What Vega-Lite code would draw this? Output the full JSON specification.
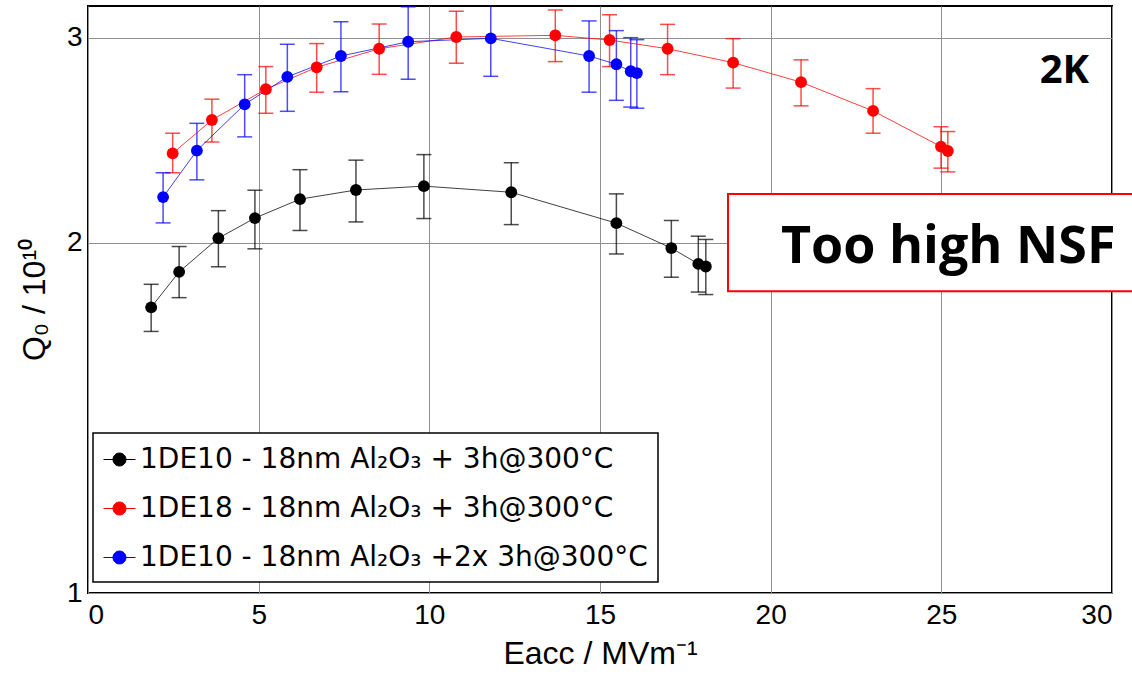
{
  "$schema": "https://vega.github.io/schema/vega-lite/v6.json",
  "width": 1024,
  "height": 587,
  "autosize": {"type": "none"},
  "padding": {"left": 88, "top": 6, "right": 20, "bottom": 91},
  "background": "white",
  "config": {
    "view": {"stroke": "black", "strokeWidth": 2},
    "axis": {
      "labelFont": "Liberation Sans",
      "labelFontSize": 28,
      "labelColor": "black",
      "titleFont": "Liberation Sans",
      "titleFontSize": 32,
      "titleFontWeight": "normal",
      "titleColor": "black",
      "gridColor": "#909090",
      "gridWidth": 1,
      "domain": false,
      "ticks": false
    },
    "legend": {
      "orient": "none",
      "legendX": 5,
      "legendY": 427,
      "padding": 10,
      "strokeColor": "black",
      "strokeWidth": 1.5,
      "fillColor": "white",
      "rowPadding": 18,
      "labelFont": "DejaVu Sans",
      "labelFontSize": 28,
      "labelColor": "black",
      "labelLimit": 0,
      "labelOffset": 4,
      "symbolSize": 1024,
      "symbolOpacity": 1,
      "symbolType": "M-1,0L1,0M0.406,0A0.406,0.406,0,1,1,-0.406,0A0.406,0.406,0,1,1,0.406,0Z",
      "symbolStrokeWidth": 1
    }
  },
  "layer": [
    {
      "data": {
        "values": [
          {"s": "1DE10 - 18nm Al₂O₃ + 3h@300°C", "x": 1.85, "q": 1.760, "lo": 1.678, "hi": 1.842},
          {"s": "1DE10 - 18nm Al₂O₃ + 3h@300°C", "x": 2.67, "q": 1.888, "lo": 1.794, "hi": 1.985},
          {"s": "1DE10 - 18nm Al₂O₃ + 3h@300°C", "x": 3.82, "q": 2.018, "lo": 1.907, "hi": 2.131},
          {"s": "1DE10 - 18nm Al₂O₃ + 3h@300°C", "x": 4.89, "q": 2.100, "lo": 1.976, "hi": 2.219},
          {"s": "1DE10 - 18nm Al₂O₃ + 3h@300°C", "x": 6.21, "q": 2.180, "lo": 2.049, "hi": 2.311},
          {"s": "1DE10 - 18nm Al₂O₃ + 3h@300°C", "x": 7.85, "q": 2.220, "lo": 2.084, "hi": 2.355},
          {"s": "1DE10 - 18nm Al₂O₃ + 3h@300°C", "x": 9.84, "q": 2.237, "lo": 2.098, "hi": 2.381},
          {"s": "1DE10 - 18nm Al₂O₃ + 3h@300°C", "x": 12.40, "q": 2.210, "lo": 2.073, "hi": 2.343},
          {"s": "1DE10 - 18nm Al₂O₃ + 3h@300°C", "x": 15.48, "q": 2.079, "lo": 1.956, "hi": 2.203},
          {"s": "1DE10 - 18nm Al₂O₃ + 3h@300°C", "x": 17.09, "q": 1.979, "lo": 1.868, "hi": 2.090},
          {"s": "1DE10 - 18nm Al₂O₃ + 3h@300°C", "x": 17.88, "q": 1.918, "lo": 1.814, "hi": 2.026},
          {"s": "1DE10 - 18nm Al₂O₃ + 3h@300°C", "x": 18.10, "q": 1.908, "lo": 1.805, "hi": 2.013},
          {"s": "1DE18 - 18nm Al₂O₃ + 3h@300°C", "x": 2.48, "q": 2.387, "lo": 2.297, "hi": 2.484},
          {"s": "1DE18 - 18nm Al₂O₃ + 3h@300°C", "x": 3.63, "q": 2.550, "lo": 2.441, "hi": 2.657},
          {"s": "1DE18 - 18nm Al₂O₃ + 3h@300°C", "x": 5.21, "q": 2.710, "lo": 2.584, "hi": 2.834},
          {"s": "1DE18 - 18nm Al₂O₃ + 3h@300°C", "x": 6.70, "q": 2.830, "lo": 2.694, "hi": 2.966},
          {"s": "1DE18 - 18nm Al₂O₃ + 3h@300°C", "x": 8.53, "q": 2.936, "lo": 2.791, "hi": 3.083},
          {"s": "1DE18 - 18nm Al₂O₃ + 3h@300°C", "x": 10.79, "q": 3.005, "lo": 2.853, "hi": 3.162},
          {"s": "1DE18 - 18nm Al₂O₃ + 3h@300°C", "x": 13.69, "q": 3.015, "lo": 2.862, "hi": 3.170},
          {"s": "1DE18 - 18nm Al₂O₃ + 3h@300°C", "x": 15.28, "q": 2.987, "lo": 2.834, "hi": 3.140},
          {"s": "1DE18 - 18nm Al₂O₃ + 3h@300°C", "x": 16.98, "q": 2.936, "lo": 2.789, "hi": 3.081},
          {"s": "1DE18 - 18nm Al₂O₃ + 3h@300°C", "x": 18.90, "q": 2.856, "lo": 2.716, "hi": 2.995},
          {"s": "1DE18 - 18nm Al₂O₃ + 3h@300°C", "x": 20.89, "q": 2.748, "lo": 2.622, "hi": 2.872},
          {"s": "1DE18 - 18nm Al₂O₃ + 3h@300°C", "x": 23.00, "q": 2.596, "lo": 2.484, "hi": 2.713},
          {"s": "1DE18 - 18nm Al₂O₃ + 3h@300°C", "x": 24.99, "q": 2.419, "lo": 2.318, "hi": 2.516},
          {"s": "1DE18 - 18nm Al₂O₃ + 3h@300°C", "x": 25.19, "q": 2.398, "lo": 2.301, "hi": 2.492},
          {"s": "1DE10 - 18nm Al₂O₃ +2x 3h@300°C", "x": 2.20, "q": 2.189, "lo": 2.080, "hi": 2.297},
          {"s": "1DE10 - 18nm Al₂O₃ +2x 3h@300°C", "x": 3.19, "q": 2.400, "lo": 2.265, "hi": 2.533},
          {"s": "1DE10 - 18nm Al₂O₃ +2x 3h@300°C", "x": 4.59, "q": 2.630, "lo": 2.466, "hi": 2.789},
          {"s": "1DE10 - 18nm Al₂O₃ +2x 3h@300°C", "x": 5.84, "q": 2.777, "lo": 2.594, "hi": 2.962},
          {"s": "1DE10 - 18nm Al₂O₃ +2x 3h@300°C", "x": 7.41, "q": 2.894, "lo": 2.697, "hi": 3.097},
          {"s": "1DE10 - 18nm Al₂O₃ +2x 3h@300°C", "x": 9.38, "q": 2.977, "lo": 2.764, "hi": 3.190},
          {"s": "1DE10 - 18nm Al₂O₃ +2x 3h@300°C", "x": 11.80, "q": 2.997, "lo": 2.780, "hi": 3.230},
          {"s": "1DE10 - 18nm Al₂O₃ +2x 3h@300°C", "x": 14.68, "q": 2.894, "lo": 2.694, "hi": 3.102},
          {"s": "1DE10 - 18nm Al₂O₃ +2x 3h@300°C", "x": 15.48, "q": 2.847, "lo": 2.651, "hi": 3.043},
          {"s": "1DE10 - 18nm Al₂O₃ +2x 3h@300°C", "x": 15.90, "q": 2.808, "lo": 2.616, "hi": 3.001},
          {"s": "1DE10 - 18nm Al₂O₃ +2x 3h@300°C", "x": 16.08, "q": 2.798, "lo": 2.610, "hi": 2.989}
        ]
      },
      "encoding": {
        "x": {
          "field": "x", "type": "quantitative",
          "scale": {"domain": [0, 30], "nice": false, "zero": false},
          "axis": {"values": [0, 5, 10, 15, 20, 25, 30], "labelPadding": 8, "titlePadding": 9, "title": "Eacc / MVm⁻¹"}
        },
        "color": {
          "field": "s", "type": "nominal",
          "scale": {
            "domain": ["1DE10 - 18nm Al₂O₃ + 3h@300°C", "1DE18 - 18nm Al₂O₃ + 3h@300°C", "1DE10 - 18nm Al₂O₃ +2x 3h@300°C"],
            "range": ["#000000", "#ff0000", "#0000ff"]
          },
          "legend": {
            "title": null,
            "encode": {
              "symbols": {
                "update": {
                  "fill": {"scale": "color", "field": "value"},
                  "stroke": {"scale": "color", "field": "value"},
                  "strokeWidth": {"value": 1},
                  "opacity": {"value": 1},
                  "fillOpacity": {"value": 1},
                  "strokeOpacity": {"value": 1}
                }
              }
            }
          }
        }
      },
      "layer": [
        {
          "mark": {"type": "rule", "strokeWidth": 1.5, "opacity": 0.7, "clip": true},
          "encoding": {
            "y": {
              "field": "lo", "type": "quantitative",
              "scale": {"type": "log", "domain": [1, 3.195], "nice": false},
              "axis": {"values": [1, 2, 3], "format": "d", "labelPadding": 6, "titlePadding": 15, "title": "Q₀ / 10¹⁰"}
            },
            "y2": {"field": "hi"}
          }
        },
        {
          "mark": {"type": "tick", "orient": "horizontal", "size": 15, "thickness": 1.5, "opacity": 0.7, "clip": true},
          "encoding": {"y": {"field": "lo", "type": "quantitative"}}
        },
        {
          "mark": {"type": "tick", "orient": "horizontal", "size": 15, "thickness": 1.5, "opacity": 0.7, "clip": true},
          "encoding": {"y": {"field": "hi", "type": "quantitative"}}
        },
        {
          "mark": {"type": "line", "strokeWidth": 1, "opacity": 0.75},
          "encoding": {"y": {"field": "q", "type": "quantitative"}}
        },
        {
          "mark": {"type": "point", "filled": true, "size": 140, "opacity": 1},
          "encoding": {"y": {"field": "q", "type": "quantitative"}}
        }
      ]
    },
    {
      "data": {"values": [{"t": ""}]},
      "mark": {"type": "rect", "fill": "white", "stroke": "#ff0000", "strokeWidth": 2},
      "encoding": {
        "x": {"datum": 18.75, "type": "quantitative"},
        "x2": {"datum": 31},
        "y": {"datum": 1.817, "type": "quantitative"},
        "y2": {"datum": 2.202}
      }
    },
    {
      "data": {"values": [{"t": "Too high NSF"}]},
      "mark": {"type": "text", "font": "Open Sans", "fontWeight": "bold", "fontSize": 52, "align": "center", "baseline": "alphabetic", "color": "black"},
      "encoding": {
        "x": {"datum": 25.2, "type": "quantitative"},
        "y": {"datum": 1.921, "type": "quantitative"},
        "text": {"field": "t"}
      }
    },
    {
      "data": {"values": [{"t": "2K"}]},
      "mark": {"type": "text", "font": "Open Sans", "fontWeight": "bold", "fontSize": 40, "align": "right", "baseline": "alphabetic", "color": "black"},
      "encoding": {
        "x": {"datum": 29.33, "type": "quantitative"},
        "y": {"datum": 2.743, "type": "quantitative"},
        "text": {"field": "t"}
      }
    }
  ]
}
